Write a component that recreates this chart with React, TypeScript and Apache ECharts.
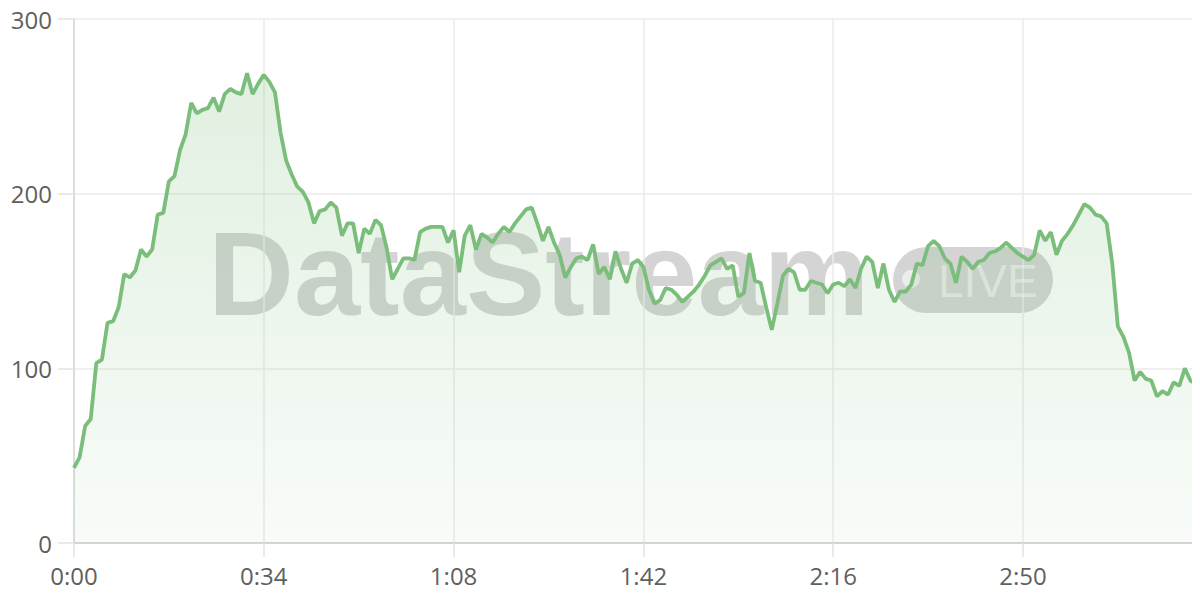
import React, { useEffect, useRef } from "react";
import * as echarts from "echarts";

const seconds: number[] = Array.from({ length: 202 }, (_, i) => i);
const values: number[] = [
  43, 49, 67, 71, 103, 105, 126, 127, 135, 154,
  152, 156, 168, 164, 168, 188, 189, 207, 210, 225,
  234, 252, 246, 248, 249, 255, 247, 257, 260, 258,
  257, 269, 257, 263, 268, 264, 258, 235, 219, 211,
  204, 201, 195, 183, 190, 191, 195, 192, 176, 183,
  183, 166, 180, 177, 185, 182, 169, 151, 157, 163,
  163, 162, 178, 180, 181, 181, 181, 172, 179, 155,
  176, 182, 168, 177, 175, 172, 177, 181, 178, 183,
  187, 191, 192, 183, 173, 181, 172, 165, 152, 158,
  163, 164, 162, 171, 154, 158, 151, 167, 157, 149,
  160, 162, 158, 145, 137, 139, 146, 145, 142, 138,
  141, 144, 148, 153, 159, 161, 163, 157, 159, 141,
  143, 166, 150, 149, 135, 122, 137, 153, 157, 155,
  145, 145, 150, 149, 148, 143, 148, 149, 147, 151,
  146, 157, 164, 161, 146, 160, 145, 138, 144, 144,
  148, 160, 159, 170, 173, 170, 163, 160, 149, 164,
  161, 157, 161, 162, 166, 167, 169, 172, 169, 166,
  164, 162, 165, 179, 173, 178, 165, 173, 177, 182,
  188, 194, 192, 188, 187, 183, 160, 124, 118, 109,
  93, 98, 94, 93, 84, 87, 85, 92, 90, 100,
  93, 91,
];
const yTicks: number[] = [0, 100, 200, 300];
const xTickStep = 34;

function fmt(v: number): string {
  const m = Math.floor(v / 60);
  const s = Math.round(v % 60);
  return `${m}:${s < 10 ? "0" : ""}${s}`;
}

export default function App() {
  const ref = useRef<HTMLDivElement>(null);
  useEffect(() => {
    if (!ref.current) return;
    const chart = echarts.init(ref.current, undefined, { renderer: "svg" });
    const data = seconds.map((s, i) => [s, values[i]]);
    const labelFont = "'Open Sans', 'DejaVu Sans', sans-serif";
    chart.setOption({
      animation: false,
      grid: { left: 74, right: 4, top: 19, bottom: 57, containLabel: false },
      xAxis: {
        type: "value",
        min: 0,
        max: seconds[seconds.length - 1],
        interval: xTickStep,
        axisLine: { show: true, lineStyle: { color: "#cccccc", width: 1.5 } },
        axisTick: { show: true, length: 14, lineStyle: { color: "#e3e3e3", width: 1.5 } },
        splitLine: { show: true, lineStyle: { color: "#ebebeb", width: 1.5 } },
        axisLabel: {
          formatter: (v: number) => fmt(v),
          color: "#5f5f5f",
          fontSize: 24,
          fontFamily: labelFont,
          margin: 20,
          showMaxLabel: false,
        },
      },
      yAxis: {
        type: "value",
        min: yTicks[0],
        max: yTicks[yTicks.length - 1],
        interval: 100,
        axisLine: { show: true, lineStyle: { color: "#d6d6d6", width: 1.5 } },
        axisTick: { show: true, length: 16, lineStyle: { color: "#e3e3e3", width: 1.5 } },
        splitLine: { show: true, lineStyle: { color: "#ebebeb", width: 1.5 } },
        axisLabel: {
          color: "#5f5f5f",
          fontSize: 24,
          fontFamily: labelFont,
          margin: 22,
        },
      },
      graphic: [
        {
          type: "text",
          left: 208,
          top: 214,
          z: 0,
          style: {
            text: "DataStream",
            font: "bold 119px 'Liberation Sans', Arial, sans-serif",
            fill: "rgba(0,0,0,0.17)",
          },
        },
        {
          type: "rect",
          shape: { x: 893, y: 247, width: 160, height: 66, r: 33 },
          z: 0,
          style: { fill: "rgba(0,0,0,0.17)" },
        },
        {
          type: "circle",
          shape: { cx: 911, cy: 279, r: 9 },
          z: 1,
          style: { fill: "rgba(255,255,255,0.55)" },
        },
        {
          type: "text",
          left: 938,
          top: 258,
          z: 1,
          style: {
            text: "LIVE",
            font: "46px 'Liberation Sans', Arial, sans-serif",
            fill: "rgba(255,255,255,0.55)",
          },
        },
      ],
      series: [
        {
          type: "line",
          data,
          showSymbol: false,
          symbol: "none",
          smooth: false,
          lineStyle: { color: "#7bbe7b", width: 3.8 },
          areaStyle: {
            color: new echarts.graphic.LinearGradient(0, 0, 0, 1, [
              { offset: 0, color: "rgba(121,189,121,0.32)" },
              { offset: 1, color: "rgba(121,189,121,0.07)" },
            ]),
          },
        },
      ],
    });
    return () => chart.dispose();
  }, []);
  return <div ref={ref} style={{ width: 1200, height: 600, margin: -8 }} />;
}
